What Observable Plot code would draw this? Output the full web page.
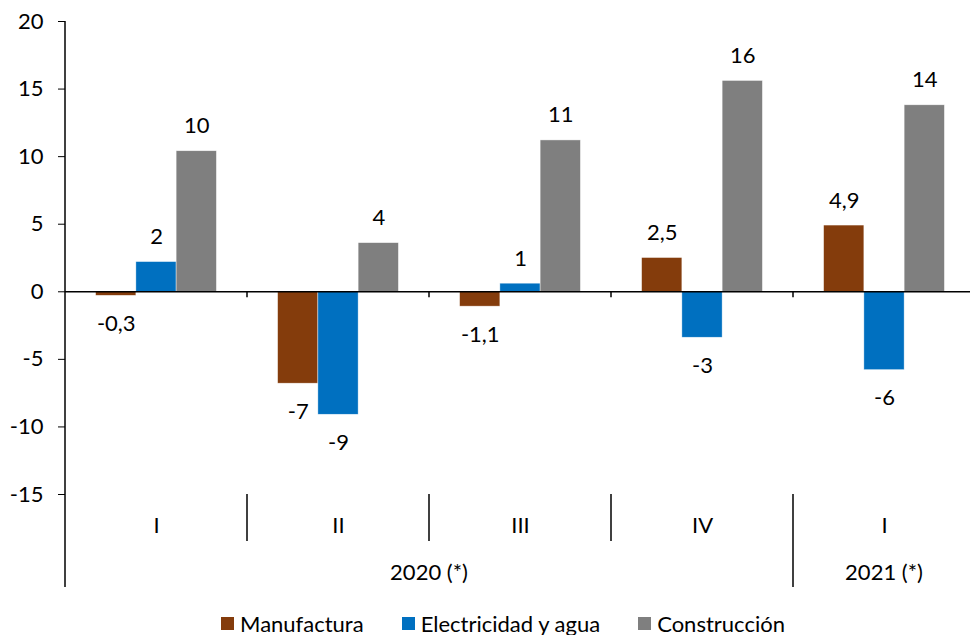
<!DOCTYPE html>
<html>
<head>
<meta charset="utf-8">
<script src="https://cdn.jsdelivr.net/npm/d3@7"></script>
<script src="https://cdn.jsdelivr.net/npm/@observablehq/plot@0.6"></script>
<style>
  html, body { margin: 0; padding: 0; background: #fff; overflow: hidden; }
  #chart { width: 975px; height: 605px; }
  .legend { display: flex; justify-content: center; align-items: center; width: 975px; height: 36px;
            font-family: Lato, sans-serif; font-size: 22px; color: #000; padding-left: 31px; box-sizing: border-box; }
  .legend .item { display: flex; align-items: center; margin-right: 38px; }
  .legend .item:last-child { margin-right: 0; }
  .legend .sw { width: 13px; height: 13px; margin-right: 6px; display: inline-block; }
</style>
</head>
<body>
<div id="chart"></div>
<script>
// ---- Data ----
const quarterKeys = ["2020-I", "2020-II", "2020-III", "2020-IV", "2021-I"];
const quarterLabels = ["I", "II", "III", "IV", "I"];
const quarterYears = ["2020 (*)", "2020 (*)", "2020 (*)", "2020 (*)", "2021 (*)"];
const yearLabels = ["2020 (*)", "2021 (*)"];

const seriesNames = ["Manufactura", "Electricidad y agua", "Construcción"];
const seriesColors = ["#843C0C", "#0070C0", "#7F7F7F"];

const manufactura = [-0.3, -6.8, -1.1, 2.5, 4.9];
const electricidad = [2.2, -9.1, 0.6, -3.4, -5.8];
const construccion = [10.4, 3.6, 11.2, 15.6, 13.8];

const manufacturaLabels = ["-0,3", "-7", "-1,1", "2,5", "4,9"];
const electricidadLabels = ["2", "-9", "1", "-3", "-6"];
const construccionLabels = ["10", "4", "11", "16", "14"];

const yTicks = [-15, -10, -5, 0, 5, 10, 15, 20];

// ---- Table ----
const seriesValues = [manufactura, electricidad, construccion];
const seriesLabels = [manufacturaLabels, electricidadLabels, construccionLabels];
const rows = [];
quarterKeys.forEach((k, qi) => {
  seriesNames.forEach((s, si) => {
    rows.push({key: k, quarter: quarterLabels[qi], year: quarterYears[qi], series: s,
               value: seriesValues[si][qi], label: seriesLabels[si][qi]});
  });
});

const FONT = "Lato, sans-serif";
const FS = 22;

const plot = Plot.plot({
  width: 975,
  height: 605,
  marginLeft: 65,
  marginRight: 0,
  marginTop: 21,
  marginBottom: 111,
  style: {fontFamily: FONT, fontSize: FS + "px", color: "#000", background: "transparent", overflow: "visible"},
  facet: {data: rows, x: "key"},
  fx: {domain: quarterKeys, padding: 0, axis: null, round: false, label: null},
  x: {domain: seriesNames, paddingInner: 0, paddingOuter: 0.76, axis: null, round: false},
  y: {domain: [-15, 20], ticks: yTicks, tickSize: 7, tickPadding: 15, label: null,
      tickFormat: d => String(d)},
  color: {domain: seriesNames, range: seriesColors},
  marks: [
    Plot.barY(rows, {x: "series", y: "value", fill: "series", stroke: "#fff", strokeWidth: 0.6, strokeOpacity: 0.7}),
    Plot.ruleY([0], {stroke: "#000", strokeWidth: 1.5}),
    Plot.text(rows, {filter: d => d.value >= 0, x: "series", y: "value", text: "label", dy: -25,
                     lineAnchor: "middle", fill: "#000", fontSize: FS}),
    Plot.text(rows, {filter: d => d.value < 0, x: "series", y: "value", text: "label", dy: 28,
                     lineAnchor: "middle", fill: "#000", fontSize: FS}),
    Plot.text(rows, {filter: d => d.series === seriesNames[1], x: "series", text: "quarter",
                     frameAnchor: "bottom", dy: 31, lineAnchor: "middle", fill: "#000", fontSize: FS})
  ]
});

document.getElementById("chart").appendChild(plot);

// ---- Structural lines from the library's scales ----
const fx = plot.scale("fx");
const ys = plot.scale("y");
const svg = d3.select(plot);
const bw = fx.bandwidth;
const yTop = ys.apply(20), yBot = ys.apply(-15), y0 = ys.apply(0);
const yearBottom = 587, quarterBottom = 541;
const g = svg.append("g").attr("stroke", "#000").attr("stroke-width", 1.5);
const x0 = fx.apply(quarterKeys[0]);
g.append("line").attr("x1", x0).attr("x2", x0).attr("y1", yTop).attr("y2", yearBottom);
quarterKeys.forEach((k, i) => {
  if (i === 0) return;
  const x = fx.apply(k);
  const yearChange = quarterYears[i] !== quarterYears[i - 1];
  g.append("line").attr("x1", x).attr("x2", x).attr("y1", yBot).attr("y2", yearChange ? yearBottom : quarterBottom);
  g.append("line").attr("x1", x).attr("x2", x).attr("y1", y0).attr("y2", y0 + 6);
});
// year labels centered under their quarters
yearLabels.forEach(yl => {
  const ks = quarterKeys.filter((k, i) => quarterYears[i] === yl);
  const left = fx.apply(ks[0]), right = fx.apply(ks[ks.length - 1]) + bw;
  svg.append("text").attr("x", (left + right) / 2).attr("y", 572)
    .attr("text-anchor", "middle").attr("dy", "0.35em")
    .attr("font-family", FONT).attr("font-size", FS).attr("fill", "#000").text(yl);
});

// ---- Legend ----
const legend = d3.select("body").append("div").attr("class", "legend");
seriesNames.forEach((s, i) => {
  const it = legend.append("div").attr("class", "item");
  it.append("span").attr("class", "sw").style("background", seriesColors[i]);
  it.append("span").text(s);
});
</script>
</body>
</html>
